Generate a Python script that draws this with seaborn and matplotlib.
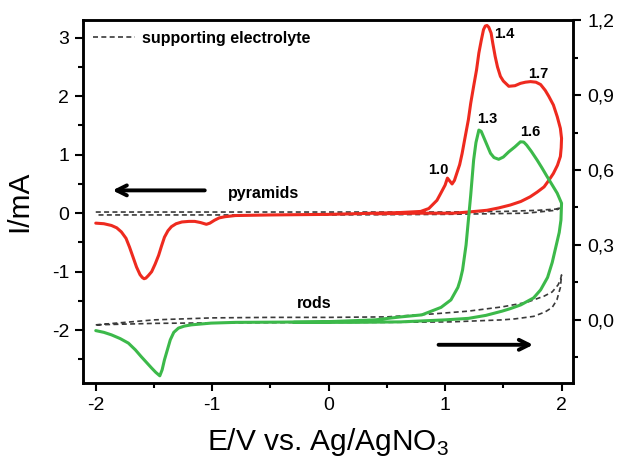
import numpy as np
import pandas as pd
import matplotlib
matplotlib.use("Agg")
import matplotlib.pyplot as plt
import seaborn as sns
from matplotlib.lines import Line2D
from matplotlib.ticker import MultipleLocator, FuncFormatter

# pyramids, left axis (mA)
red_E = [-2.0, -1.93, -1.865, -1.82, -1.78, -1.74, -1.71, -1.68, -1.65, -1.62, -1.6, -1.585,
         -1.57, -1.55, -1.52, -1.49, -1.46, -1.435, -1.41, -1.38, -1.35, -1.31, -1.26, -1.2,
         -1.15, -1.1, -1.05, -1.02, -0.98, -0.94, -0.89, -0.8, -0.5, 0.0, 0.4, 0.6, 0.79,
         0.86, 0.93, 0.96, 1.0, 1.02, 1.04, 1.06, 1.08, 1.1, 1.125, 1.146, 1.17, 1.2, 1.22,
         1.245, 1.27, 1.29, 1.31, 1.33, 1.345, 1.36, 1.375, 1.395, 1.41, 1.43, 1.45, 1.475,
         1.5, 1.547, 1.6, 1.647, 1.69, 1.733, 1.78, 1.82, 1.86, 1.89, 1.93, 1.963, 1.99, 2.0,
         1.997, 1.99, 1.965, 1.93, 1.89, 1.85, 1.79, 1.73, 1.65, 1.56, 1.46, 1.36, 1.2, 1.07,
         0.79, 0.4]
red_I = [-0.17, -0.18, -0.21, -0.25, -0.32, -0.43, -0.58, -0.75, -0.92, -1.05, -1.1, -1.12,
         -1.11, -1.07, -1.0, -0.87, -0.72, -0.56, -0.41, -0.3, -0.23, -0.18, -0.15, -0.14,
         -0.14, -0.16, -0.19, -0.17, -0.12, -0.08, -0.06, -0.04, -0.03, -0.02, 0.0, 0.01, 0.03,
         0.08, 0.22, 0.33, 0.48, 0.6, 0.55, 0.5, 0.56, 0.68, 0.83, 1.02, 1.28, 1.6, 1.88,
         2.17, 2.45, 2.74, 2.95, 3.14, 3.2, 3.21, 3.18, 3.08, 2.9, 2.68, 2.5, 2.34,
         2.26, 2.17, 2.18, 2.22, 2.24, 2.25, 2.24, 2.2, 2.1, 2.0, 1.85, 1.65, 1.45, 1.28,
         1.12, 0.97, 0.82, 0.68, 0.56, 0.45, 0.36, 0.28, 0.2, 0.14, 0.09, 0.05, 0.02, 0.0,
         0.0, -0.01]

# rods, right axis
green_E = [-2.0, -1.93, -1.865, -1.79, -1.72, -1.66, -1.61, -1.565, -1.52, -1.485, -1.45,
           -1.43, -1.41, -1.385, -1.36, -1.33, -1.29, -1.24, -1.18, -1.01, -0.8, -0.4, 0.0,
           0.4, 0.62, 0.8, 0.965, 1.05, 1.11, 1.13, 1.15, 1.18, 1.2, 1.22, 1.245, 1.265,
           1.29, 1.31, 1.33, 1.36, 1.39, 1.42, 1.46, 1.5, 1.547, 1.6, 1.647, 1.675, 1.70,
           1.74, 1.79, 1.83, 1.877, 1.92, 1.963, 2.0, 1.995, 1.98, 1.96, 1.92, 1.88, 1.82,
           1.76, 1.65, 1.56, 1.49, 1.35, 1.2, 1.0, 0.62, 0.2, -0.3]
green_I = [-0.043, -0.05, -0.06, -0.075, -0.093, -0.12, -0.147, -0.17, -0.193, -0.21, -0.224,
           -0.2, -0.16, -0.12, -0.08, -0.05, -0.033, -0.025, -0.02, -0.013, -0.01, -0.009,
           -0.007, 0.0, 0.012, 0.02, 0.05, 0.08, 0.13, 0.16, 0.2, 0.3, 0.4, 0.5, 0.64, 0.71,
           0.76, 0.755, 0.733, 0.7, 0.667, 0.65, 0.643, 0.652, 0.673, 0.693, 0.713, 0.712,
           0.70, 0.675, 0.64, 0.61, 0.573, 0.54, 0.507, 0.467, 0.4, 0.35, 0.31, 0.23, 0.17,
           0.12, 0.088, 0.06, 0.045, 0.035, 0.018, 0.006, 0.0, -0.008, -0.01, -0.01]

# supporting electrolyte near pyramids baseline (left axis)
se1_E = [-2.0, -1.0, 0.0, 1.0, 1.5, 1.8, 1.95, 2.0, 1.95, 1.7, 1.0, 0.0, -1.0, -2.0]
se1_I = [0.02, 0.02, 0.02, 0.02, 0.03, 0.05, 0.07, 0.1, 0.05, 0.0, -0.02, -0.03, -0.03, -0.03]

# supporting electrolyte near rods baseline (right axis)
se2_E = [-2.0, -1.5, -1.0, -0.5, 0.0, 0.5, 0.9, 1.2, 1.49, 1.7, 1.85, 1.92, 1.97, 1.99, 2.0,
         1.99, 1.96, 1.92, 1.86, 1.76, 1.6, 1.49, 1.05, 0.5, 0.0, -1.0, -1.5, -2.0]
se2_I = [-0.02, 0.0, 0.008, 0.01, 0.01, 0.012, 0.024, 0.035, 0.052, 0.07, 0.095, 0.112, 0.14,
         0.16, 0.18, 0.13, 0.08, 0.05, 0.032, 0.014, 0.004, 0.0, -0.008, -0.01, -0.01, -0.012,
         -0.014, -0.02]

peak_labels = ["1.0", "1.4", "1.7", "1.3", "1.6"]
peak_E = [0.94, 1.51, 1.8, 1.36, 1.73]
peak_I = [0.74, 3.07, 2.38, 1.61, 1.39]

sns.set_style("ticks")
plt.rcParams["font.family"] = ["Liberation Sans", "DejaVu Sans"]
plt.rcParams.update({"axes.edgecolor": "black", "xtick.color": "black", "ytick.color": "black",
                     "text.color": "black", "axes.labelcolor": "black",
                     "mathtext.fontset": "custom", "mathtext.rm": "Liberation Sans"})

RED = "#ee2a1f"
GREEN = "#3cb94a"
GREY = "#3a3a3a"
DASH = (0, (3, 2))

fig = plt.figure(figsize=(6.19, 4.59), dpi=100)
ax = fig.add_axes([0.134, 0.166, 0.792, 0.790])
ax2 = ax.twinx()

sns.lineplot(x=se1_E, y=se1_I, ax=ax, sort=False, estimator=None, color=GREY,
             lw=1.2, linestyle=DASH)
sns.lineplot(x=red_E, y=red_I, ax=ax, sort=False, estimator=None, color=RED, lw=2.2)
sns.lineplot(x=se2_E, y=se2_I, ax=ax2, sort=False, estimator=None, color=GREY,
             lw=1.2, linestyle=DASH)
sns.lineplot(x=green_E, y=green_I, ax=ax2, sort=False, estimator=None, color=GREEN, lw=2.2)
for a in (ax, ax2):
    for ln in a.lines:
        ln.set_solid_joinstyle("round")

ax.set_xlim(-2.11, 2.10)
ax.set_ylim(-2.9, 3.3)
ax2.set_ylim(-0.252, 1.2)

ax.xaxis.set_major_locator(MultipleLocator(1))
ax.xaxis.set_minor_locator(MultipleLocator(0.5))
ax.yaxis.set_major_locator(MultipleLocator(1))
ax.yaxis.set_minor_locator(MultipleLocator(0.5))
ax2.yaxis.set_major_locator(MultipleLocator(0.3))
ax2.yaxis.set_minor_locator(MultipleLocator(0.15))
ax.xaxis.set_major_formatter(FuncFormatter(lambda v, p: f"{v:.0f}"))
ax.yaxis.set_major_formatter(FuncFormatter(lambda v, p: f"{v:.0f}"))
ax2.yaxis.set_major_formatter(FuncFormatter(lambda v, p: f"{v:.1f}".replace(".", ",").replace("-0,0", "0,0")))

for a in (ax, ax2):
    for s in a.spines.values():
        s.set_visible(True)
        s.set_linewidth(1.8)
    a.tick_params(which="major", length=6, width=1.5, labelsize=14, pad=4, direction="out")
    a.tick_params(which="minor", length=3.6, width=1.5, direction="out")
ax.tick_params(top=False, which="both")
ax.set_xlabel("E/V vs. Ag/AgNO$_3$", fontsize=21.5, labelpad=9)
ax.set_ylabel("I/mA", fontsize=21.5, labelpad=13)
ax2.set_ylabel("")

# legend
h = Line2D([], [], color=GREY, lw=1.2, linestyle=DASH)
leg = ax.legend([h], ["supporting electrolyte"], loc="upper left", frameon=False,
                handlelength=2.6, handletextpad=0.45, borderaxespad=0.25,
                prop={"weight": "bold", "size": 11.5})

ax.annotate("", xy=(-1.88, 0.39), xytext=(-1.04, 0.39),
            arrowprops=dict(arrowstyle="->", lw=2.8, color="black", mutation_scale=18))
ax.annotate("", xy=(1.78, -2.25), xytext=(0.92, -2.25),
            arrowprops=dict(arrowstyle="->", lw=2.8, color="black", mutation_scale=18))
ax.text(-0.56, 0.34, "pyramids", ha="center", va="center", fontsize=11.5, fontweight="bold")
ax.text(-0.12, -1.54, "rods", ha="center", va="center", fontsize=11.5, fontweight="bold")
for lab, e, i in zip(peak_labels, peak_E, peak_I):
    ax.text(e, i, lab, ha="center", va="center", fontsize=10.5, fontweight="bold")

fig.savefig("out.png", dpi=100)
